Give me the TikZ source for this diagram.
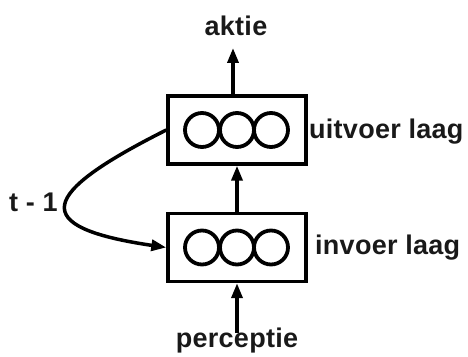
\documentclass[tikz,border=0pt]{standalone}
\usepackage{fontspec}
\setmainfont{Liberation Sans}[LetterSpace=1]
\usetikzlibrary{arrows.meta,calc}
\begin{document}
\begin{tikzpicture}[x=1pt,y=1pt,
  layer/.style={draw,line width=3.4pt,minimum width=138pt,minimum height=68pt,inner sep=0pt},
  unit/.style={draw,circle,line width=3.8pt,minimum size=34pt,inner sep=0pt},
  lbl/.style={font=\fontsize{27}{30}\selectfont\bfseries,inner sep=0pt,text=black!90},
  arr/.style={line width=3.5pt,-{Triangle[length=15pt,width=11pt]}}]
\useasboundingbox (0,0) rectangle (468,356);
\node[layer] (up) at (237,226) {};
\node[layer] (low) at (237,108.5) {};
\foreach \n/\dx in {1/-35,2/0,3/34}{
  \node[unit] (u\n) at ($(up.center)+(\dx,0)$) {};
  \node[unit] (l\n) at ($(low.center)+(\dx,0)$) {};
}
\node[lbl,anchor=base] (aktie) at (236,320) {aktie};
\node[lbl,anchor=base west] (uit) at (309,217) {uitvoer laag};
\node[lbl,anchor=base west] (inv) at (315,101) {invoer laag};
\node[lbl,anchor=base] (perc) at (237,9) {perceptie};
\node[lbl,anchor=base west] (t1) at (9,144) {t - 1};
\coordinate (atip) at (233,308);
\coordinate (ptail) at (237,23);
\draw[arr] (up.north -| atip) -- (atip);
\draw[arr] (low.north) -- (up.south);
\draw[arr] (ptail) -- (low.south);
\draw[arr] (up.west) .. controls (39,162) and (27,129) .. (low.west);
\end{tikzpicture}
\end{document}
